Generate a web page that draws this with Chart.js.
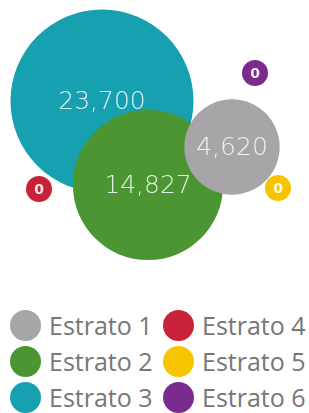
<!DOCTYPE html>
<html>
<head>
<meta charset="utf-8">
<script src="https://cdn.jsdelivr.net/npm/chart.js@4/dist/chart.umd.min.js"></script>
<style>
  html, body { margin: 0; padding: 0; background: #fff; }
  #wrap { position: relative; width: 309px; height: 413px; }
  #plot { position: absolute; left: 0; top: 0; width: 309px; height: 307px; }
  #legend { position: absolute; left: 10px; top: 307px; width: 299px;
            display: grid; grid-template-columns: 153px 146px; grid-auto-flow: column;
            grid-template-rows: repeat(3, 36px); }
  .item { display: flex; align-items: center; font: 25px 'Open Sans', sans-serif; color: #777; white-space: nowrap; }
  .dot { width: 31px; height: 31px; border-radius: 50%; margin-right: 8px; flex: none; }
</style>
</head>
<body>
<div id="wrap">
  <div id="plot"><canvas id="bubbles"></canvas></div>
  <div id="legend"></div>
</div>
<script>
// data
const labels = ["Estrato 1", "Estrato 2", "Estrato 3", "Estrato 4", "Estrato 5", "Estrato 6"];
const values = [4620, 14827, 23700, 0, 0, 0];
const posX = [232, 148, 102, 39, 278, 255];
const posY = [147, 185, 101, 189, 188, 73];
const colors = ["#a7a5a7", "#4b9632", "#17a0b0", "#c8223a", "#f6c500", "#7a2c8e"];

function radiusFor(v){
    return 13 + 0.51 * Math.sqrt(v);
}

const valueLabels = {
    id: "valueLabels",
    afterDatasetsDraw(chart){
        const ctx = chart.ctx;
        ctx.save();
        ctx.textAlign = "center";
        ctx.textBaseline = "middle";
        chart.data.datasets.forEach((ds, i) => {
            const pt = chart.getDatasetMeta(i).data[0];
            const v = values[i];
            if (v > 0) {
                ctx.font = "200 25px 'DejaVu Sans', sans-serif";
                ctx.fillStyle = "rgba(255,255,255,0.85)";
            } else {
                ctx.font = "bold 14px 'DejaVu Sans', sans-serif";
                ctx.fillStyle = "rgba(255,255,255,0.9)";
            }
            ctx.fillText(v.toLocaleString("en-US"), pt.x, pt.y + 1);
        });
        ctx.restore();
    }
};

// legend as html, filled from the chart's own legend items
const htmlLegend = {
    id: "htmlLegend",
    afterUpdate(chart){
        const box = document.getElementById("legend");
        box.innerHTML = "";
        const items = chart.options.plugins.legend.labels.generateLabels(chart);
        items.forEach(it => {
            const row = document.createElement("div");
            row.className = "item";
            const dot = document.createElement("span");
            dot.className = "dot";
            dot.style.background = it.fillStyle;
            row.appendChild(dot);
            row.appendChild(document.createTextNode(it.text));
            box.appendChild(row);
        });
    }
};

const datasets = labels.map((name, i) => ({
    label: name,
    data: [{ x: posX[i], y: posY[i], r: radiusFor(values[i]) }],
    backgroundColor: colors[i],
    borderWidth: 0,
    hoverBorderWidth: 0,
    clip: false
}));

new Chart(document.getElementById("bubbles"), {
    type: "bubble",
    data: { datasets: datasets },
    options: {
        responsive: true,
        maintainAspectRatio: false,
        animation: false,
        layout: { autoPadding: false, padding: 0 },
        scales: {
            x: { display: false, min: 0, max: 309 },
            y: { display: false, min: 0, max: 307, reverse: true }
        },
        plugins: {
            tooltip: { enabled: false },
            legend: { display: false }
        }
    },
    plugins: [valueLabels, htmlLegend]
});
</script>
</body>
</html>
